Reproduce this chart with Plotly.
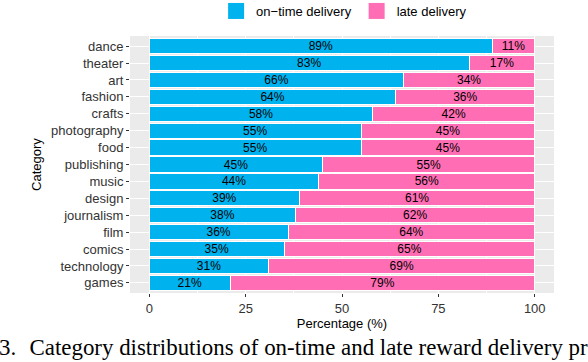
import plotly.graph_objects as go

# categories from bottom to top (as drawn)
categories = ['games', 'technology', 'comics', 'film', 'journalism', 'design',
              'music', 'publishing', 'food', 'photography', 'crafts', 'fashion',
              'art', 'theater', 'dance']
on_time = [21, 31, 35, 36, 38, 39, 44, 45, 55, 55, 58, 64, 66, 83, 89]
late = [79, 69, 65, 64, 62, 61, 56, 55, 45, 45, 42, 36, 34, 17, 11]

x_ticks = [0, 25, 50, 75, 100]

BLUE = '#00B2EE'
PINK = '#FF6EB4'

fig = go.Figure()

for name, vals, color in [('on\u2212time delivery', on_time, BLUE),
                          ('late delivery', late, PINK)]:
    fig.add_trace(go.Bar(
        y=categories,
        x=vals,
        orientation='h',
        width=0.9,
        marker=dict(color=color, line=dict(color='white', width=1)),
        text=[f'{v}%' for v in vals],
        textposition='inside',
        insidetextanchor='middle',
        textfont=dict(color='black', size=12),
        showlegend=False,
        hoverinfo='skip',
    ))
    # legend key as a bigger square
    fig.add_trace(go.Scatter(
        x=[None], y=[None], mode='markers', name=name,
        marker=dict(symbol='square', size=16, color=color),
    ))

fig.update_layout(
    width=588,
    height=362,
    barmode='stack',
    plot_bgcolor='#EBEBEB',
    paper_bgcolor='white',
    margin=dict(l=130, r=34, t=36, b=69, autoexpand=False),
    font=dict(family='Liberation Sans, Arial, sans-serif', size=13, color='black'),
    uniformtext=dict(minsize=12, mode='show'),
    legend=dict(
        orientation='h',
        traceorder='normal',
        x=0.505, xanchor='center',
        y=1 + 40 / 257, yanchor='top',
        font=dict(size=13),
        itemsizing='trace',
        tracegroupgap=0,
    ),
    xaxis=dict(
        range=[-5, 105],
        tickvals=x_ticks,
        ticks='outside', ticklen=3, tickcolor='#333333',
        tickfont=dict(size=13, color='#333333'),
        showgrid=True, gridcolor='white', gridwidth=1,
        minor=dict(dtick=12.5, tick0=0, showgrid=True, gridcolor='white', gridwidth=0.5),
        zeroline=False,
        automargin=False,
        title=dict(text='Percentage (%)', font=dict(size=13), standoff=1),
        fixedrange=True,
    ),
    yaxis=dict(
        categoryorder='array', categoryarray=categories,
        range=[-0.6, 14.6],
        ticks='outside', ticklen=3, tickcolor='#333333',
        tickfont=dict(size=13, color='#333333'),
        showgrid=True, gridcolor='white', gridwidth=1,
        zeroline=False,
        automargin=False,
        title=dict(text='Category', font=dict(size=13), standoff=6),
        fixedrange=True,
    ),
)

# figure caption, cut by the page edges as in the source
fig.add_annotation(
    text='3.  \u200aCategory distributions of on-time and late reward delivery projects',
    xref='paper', yref='paper',
    x=-133 / 424, y=-(362 - 293) / 257,
    xanchor='left', yanchor='bottom',
    showarrow=False,
    font=dict(family='Liberation Serif, Times New Roman, serif', size=22.9, color='black'),
)

fig.write_html('out.html', config={'displayModeBar': False},
               post_script="document.body.style.margin='0';")
